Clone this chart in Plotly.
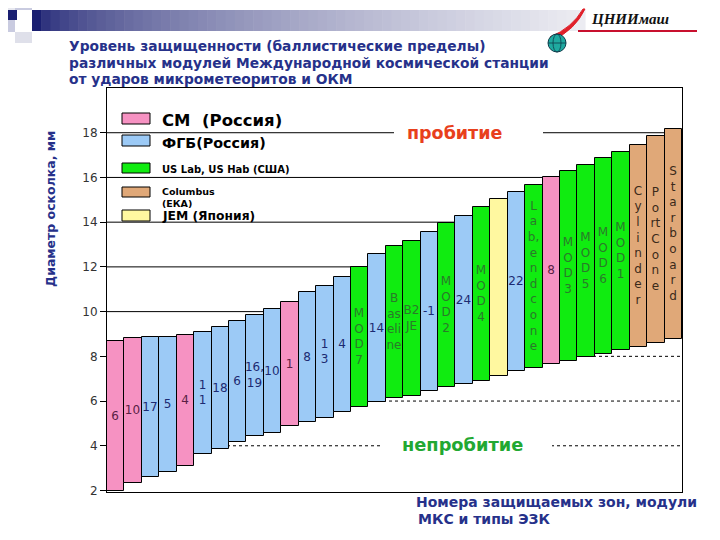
import plotly.graph_objects as go

# ---------------- data ----------------
zones = ["6", "10", "17", "5", "4", "1\n1", "18", "6", "16,\n19", "10", "1", "8",
         "1\n3", "4", "M\nO\nD\n7", "14", "B\nas\neli\nne", "B2\nJE", "-1",
         "M\nO\nD\n2", "24", "M\nO\nD\n4", "", "22",
         "L\na\nb,\ne\nn\nd\nc\no\nn\ne", "8", "M\nO\nD\n3", "M\nO\nD\n5",
         "M\nO\nD\n6", "M\nO\nD\n1", "C\ny\nl\ni\nn\nd\ne\nr",
         "P\no\nrt\nC\no\nn\ne", "S\nt\na\nr\nb\no\na\nr\nd"]
bottoms = [2.00, 2.32, 2.59, 2.81, 3.11, 3.62, 3.84, 4.17, 4.44, 4.56, 4.88, 5.05,
           5.23, 5.50, 5.72, 5.94, 6.12, 6.22, 6.45, 6.61, 6.76, 6.89, 7.12, 7.34,
           7.46, 7.65, 7.79, 7.98, 8.10, 8.28, 8.43, 8.61, 8.77]
tops = [8.68, 8.80, 8.87, 8.87, 8.94, 9.10, 9.32, 9.59, 9.87, 10.12, 10.44, 10.88,
        11.14, 11.53, 11.98, 12.56, 12.93, 13.16, 13.57, 13.95, 14.27, 14.70, 15.02,
        15.33, 15.68, 16.03, 16.30, 16.55, 16.89, 17.15, 17.47, 17.84, 18.16]
modules = ["SM", "SM", "FGB", "FGB", "SM", "FGB", "FGB", "FGB", "FGB", "FGB", "SM",
           "FGB", "FGB", "FGB", "US", "FGB", "US", "US", "FGB", "US", "FGB", "US",
           "JEM", "FGB", "US", "SM", "US", "US", "US", "US", "COL", "COL", "COL"]
legend_keys = ["SM", "FGB", "US", "COL", "JEM"]
legend_texts = ["СМ  (Россия)", "ФГБ(Россия)", "US Lab, US Hab (США)",
                "Columbus<br>(ЕКА)", "JEM (Япония)"]
y_ticks = [2, 4, 6, 8, 10, 12, 14, 16, 18]
solid_grid = [10, 12, 14, 16, 18]
dotted_grid = [4, 6, 8]

# ---------------- styles ----------------
fill = {"SM": "#f692c2", "FGB": "#9ccaf6", "US": "#10ec10", "COL": "#e0a878", "JEM": "#fff8a0"}
txtc = {"SM": "#5a1f45", "FGB": "#1c2a72", "US": "#2a7a2a", "COL": "#3b2a1a", "JEM": "#333333"}
NAVY = "#26318a"
FONT = "DejaVu Sans"

OFF = 8                       # page body margin of the browser
W, H = 720, 540
L, R, T, B = 107, 682, 88, 492   # plot area in window pixels


def px(x):
    return (x - L) / (R - L)


def py(y):
    return (B - y) / (B - T)


fig = go.Figure(go.Bar(
    x=list(range(len(tops))),
    y=[t - b for t, b in zip(tops, bottoms)],
    base=bottoms,
    marker=dict(color=[fill[m] for m in modules], line=dict(color="black", width=1)),
    text=[z.replace("\n", "<br>") for z in zones],
    textposition="inside", insidetextanchor="middle", textangle=0,
    constraintext="none",
    textfont=dict(family=FONT, size=12, color=[txtc[m] for m in modules]),
    hoverinfo="skip", showlegend=False,
))

shapes = []
# grid lines
for g in solid_grid:
    shapes.append(dict(type="line", xref="paper", yref="y", x0=0, x1=1, y0=g, y1=g,
                       line=dict(color="black", width=1), layer="below"))
for g in dotted_grid:
    shapes.append(dict(type="line", xref="paper", yref="y", x0=0, x1=1, y0=g, y1=g,
                       line=dict(color="black", width=1, dash="dot"), layer="below"))
# white boxes behind the two labels
shapes.append(dict(type="rect", xref="paper", yref="paper", x0=px(394), x1=px(543),
                   y0=py(145), y1=py(120), fillcolor="white", line=dict(width=0), layer="below"))
shapes.append(dict(type="rect", xref="paper", yref="paper", x0=px(381), x1=px(552),
                   y0=py(456), y1=py(432), fillcolor="white", line=dict(width=0), layer="below"))

annotations = []
# legend
leg_box_y = [(113, 124), (135, 146), (163, 173), (187, 197), (210, 221)]
leg_text_y = [121, 143, 169, 197, 216]
leg_size = [16.5, 14.3, 10, 9.5, 12.3]
for k, txt, (y0, y1), ty, fs in zip(legend_keys, legend_texts, leg_box_y, leg_text_y, leg_size):
    shapes.append(dict(type="rect", xref="paper", yref="paper", x0=px(122), x1=px(150),
                       y0=py(y1), y1=py(y0), fillcolor=fill[k],
                       line=dict(color="black", width=1)))
    annotations.append(dict(xref="paper", yref="paper", x=px(160), y=py(ty), text=txt,
                            xanchor="left", yanchor="middle", align="left", showarrow=False,
                            font=dict(family=FONT, size=fs, color="black", weight="bold")))

# penetration labels
annotations.append(dict(xref="paper", yref="paper", x=px(455), y=py(133), text="пробитие",
                        showarrow=False, xanchor="center", yanchor="middle",
                        font=dict(family=FONT, size=17.5, color="#e8401c", weight="bold")))
annotations.append(dict(xref="paper", yref="paper", x=px(462), y=py(444), text="непробитие",
                        showarrow=False, xanchor="center", yanchor="middle",
                        font=dict(family=FONT, size=17.8, color="#22a832", weight="bold")))

# titles
title_lines = ["Уровень защищенности (баллистические пределы)",
               "различных модулей Международной космической станции",
               "от ударов микрометеоритов и ОКМ"]
for line, ty in zip(title_lines, [46, 62.5, 79]):
    annotations.append(dict(xref="paper", yref="paper", x=px(67), y=py(ty), text=line,
                            showarrow=False, xanchor="left", yanchor="middle",
                            font=dict(family=FONT, size=13.8, color=NAVY, weight="bold")))
annotations.append(dict(xref="paper", yref="paper", x=px(50), y=py(209),
                        text="Диаметр осколка, мм", textangle=-90, showarrow=False,
                        xanchor="center", yanchor="middle",
                        font=dict(family=FONT, size=12.5, color=NAVY, weight="bold")))
annotations.append(dict(xref="paper", yref="paper", x=px(414), y=py(502),
                        text="Номера защищаемых зон, модули", showarrow=False,
                        xanchor="left", yanchor="middle",
                        font=dict(family=FONT, size=14, color=NAVY, weight="bold")))
annotations.append(dict(xref="paper", yref="paper", x=px(416), y=py(519),
                        text="МКС и типы ЭЗК", showarrow=False,
                        xanchor="left", yanchor="middle",
                        font=dict(family=FONT, size=14, color=NAVY, weight="bold")))

# ---------------- header decoration ----------------
def prect(x0, y0, x1, y1, color):
    return dict(type="rect", xref="paper", yref="paper", x0=px(x0), x1=px(x1),
                y0=py(y1), y1=py(y0), fillcolor=color, line=dict(width=0))


shapes += [prect(15, 0, 32, 10, "#c9cbe0"), prect(0, 20, 15, 32, "#c9cbe0"),
           prect(15, 32, 32, 43, "#dfe0ea"), prect(0, 0, 15, 10, "#e6e7ef"),
           prect(8, 10, 17, 20, "#1a1f71")]
n_seg = 60
x_start, x_end = 32, 585
c0, c1 = (26, 31, 113), (236, 236, 242)
for i in range(n_seg):
    t = (i / (n_seg - 1)) ** 0.55
    col = "rgb(%d,%d,%d)" % tuple(int(a + (b - a) * t) for a, b in zip(c0, c1))
    xa = x_start + (x_end - x_start) * i / n_seg
    xb = x_start + (x_end - x_start) * (i + 1) / n_seg + 0.6
    shapes.append(prect(xa, 10, xb, 31, col))

shapes.append(dict(type="line", xref="paper", yref="paper", x0=px(578), x1=px(697),
                   y0=py(31), y1=py(31), line=dict(color="#c8102e", width=2)))
sw = "M %f %f Q %f %f %f %f L %f %f Q %f %f %f %f Z" % (
    px(553), py(40), px(575), py(30), px(585), py(9),
    px(583), py(9), px(572), py(28), px(550), py(37))
shapes.append(dict(type="path", xref="paper", yref="paper", path=sw,
                   fillcolor="#e0202a", line=dict(color="#e0202a", width=1)))
shapes.append(dict(type="circle", xref="paper", yref="paper", x0=px(548), x1=px(566),
                   y0=py(52), y1=py(34), fillcolor="#1fa9a0", line=dict(color="#0d3b4a", width=1)))
shapes.append(dict(type="circle", xref="paper", yref="paper", x0=px(553), x1=px(561),
                   y0=py(52), y1=py(34), line=dict(color="#0d3b4a", width=0.8)))
shapes.append(dict(type="line", xref="paper", yref="paper", x0=px(548), x1=px(566),
                   y0=py(43), y1=py(43), line=dict(color="#0d3b4a", width=0.8)))
annotations.append(dict(xref="paper", yref="paper", x=px(589), y=py(19), text="ЦНИИмаш",
                        showarrow=False, xanchor="left", yanchor="middle",
                        font=dict(family="Liberation Serif", size=15, color="#111111",
                                  weight="bold", style="italic")))

fig.update_layout(
    width=W - OFF, height=H - OFF,
    margin=dict(l=L - OFF, r=W - R, t=T - OFF, b=H - B, pad=0),
    paper_bgcolor="white", plot_bgcolor="white",
    bargap=0,
    shapes=shapes, annotations=annotations,
    xaxis=dict(range=[-0.5, len(tops) - 0.5], showticklabels=False, ticks="",
               showgrid=False, zeroline=False, showline=True, mirror=True,
               linecolor="black", linewidth=1, fixedrange=True),
    yaxis=dict(range=[1.933, 20], tickvals=y_ticks, ticks="outside", ticklen=6,
               tickcolor="black", showgrid=False, zeroline=False, showline=True,
               mirror=True, linecolor="black", linewidth=1,
               tickfont=dict(family=FONT, size=12, color="#333333"), fixedrange=True),
    font=dict(family=FONT),
)

fig.write_html("out.html", config={"displayModeBar": False})
